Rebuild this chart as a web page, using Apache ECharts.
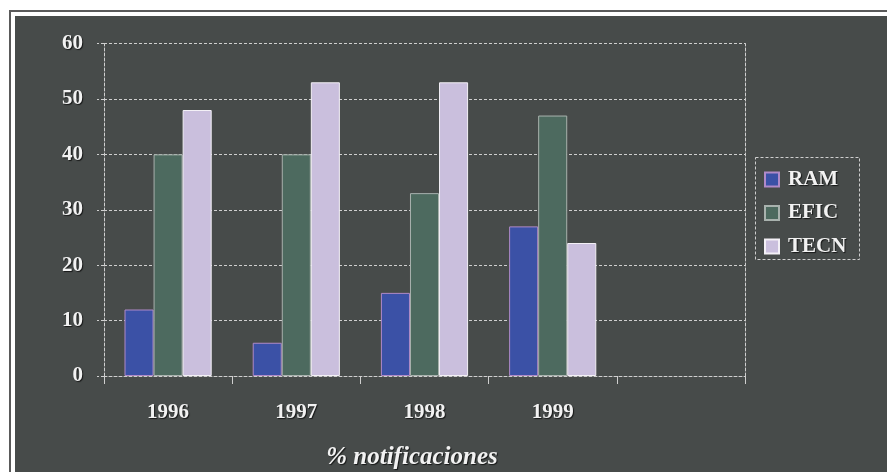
<!DOCTYPE html>
<html>
<head>
<meta charset="utf-8">
<script src="https://cdn.jsdelivr.net/npm/echarts@6/dist/echarts.min.js"></script>
<style>
  html, body { margin: 0; padding: 0; background: #ffffff; width: 887px; height: 472px; overflow: hidden; }
  #frame { position: absolute; left: 9px; top: 10px; width: 878px; height: 462px;
           border-top: 2px solid #5a5a5a; border-left: 2px solid #5a5a5a; box-sizing: border-box; background: #ffffff; }
  #chart { position: absolute; left: 15px; top: 16px; width: 872px; height: 456px; background: #474b4a; }
</style>
</head>
<body>
<div id="frame"></div>
<div id="chart"></div>
<script>
// Years on the category axis; the fifth slot is left empty
const years = ['1996', '1997', '1998', '1999', ''];
// Percentage of notifications per group
const ram  = [12, 6, 15, 27];
const efic = [40, 40, 33, 47];
const tecn = [48, 53, 53, 24];
// Value-axis ticks
const yMin = 0, yMax = 60, yStep = 10;

const serif = '"Liberation Serif", "Times New Roman", serif';
const textCol = '#f2f2f2';
const shadow = { textShadowColor: 'rgba(0,0,0,0.7)', textShadowBlur: 1, textShadowOffsetX: 1, textShadowOffsetY: 1 };
const dash = { color: '#cfcfcf', width: 1, type: [3, 2] };

const chart = echarts.init(document.getElementById('chart'), null, { renderer: 'canvas' });

function bar(name, data, fill, edge) {
  return {
    name, type: 'bar', data,
    barGap: '0%', barCategoryGap: '32%',
    itemStyle: { color: fill, borderColor: edge, borderWidth: 1 }
  };
}

chart.setOption({
  backgroundColor: 'transparent',
  animation: false,
  title: {
    text: '% notificaciones',
    left: 392, top: 424, textAlign: 'center',
    textStyle: Object.assign({ fontFamily: serif, fontSize: 25, fontWeight: 'bold', fontStyle: 'italic', color: textCol }, shadow)
  },
  grid: { left: 89, right: 142, top: 27.5, bottom: 96 },
  legend: {
    orient: 'vertical', left: 744, top: 148,
    itemWidth: 14, itemHeight: 14, itemGap: 12.5,
    icon: 'rect',
    textStyle: Object.assign({ fontFamily: serif, fontSize: 21, fontWeight: 'bold', color: textCol, padding: [0, 0, 0, 4] }, shadow)
  },
  graphic: [{
    type: 'rect', left: 740, top: 141, z: -1,
    shape: { width: 104, height: 102 },
    style: { fill: 'transparent', stroke: '#cfcfcf', lineWidth: 1, lineDash: [3, 2] }
  }],
  xAxis: {
    type: 'category', data: years,
    axisLine: { lineStyle: dash },
    axisTick: { show: true, length: 8, lineStyle: { color: '#cfcfcf', width: 1 } },
    axisLabel: Object.assign({ fontFamily: serif, fontSize: 21, fontWeight: 'bold', color: textCol, margin: 26 }, shadow)
  },
  yAxis: [{
    type: 'value', min: yMin, max: yMax, interval: yStep,
    axisLine: { show: true, lineStyle: dash },
    axisTick: { show: true, length: 7, lineStyle: dash },
    splitLine: { show: true, lineStyle: dash },
    axisLabel: Object.assign({ fontFamily: serif, fontSize: 21, fontWeight: 'bold', color: textCol, margin: 21 }, shadow)
  }, {
    type: 'value', min: yMin, max: yMax, interval: yStep, position: 'right',
    axisLine: { show: true, lineStyle: dash },
    axisTick: { show: false }, axisLabel: { show: false }, splitLine: { show: false }
  }],
  series: [
    bar('RAM', ram, '#3b51a6', '#b08ac8'),
    bar('EFIC', efic, '#4d6a5f', '#a9b2ae'),
    bar('TECN', tecn, '#cabfdd', '#f3f0f6')
  ]
});
</script>
</body>
</html>
